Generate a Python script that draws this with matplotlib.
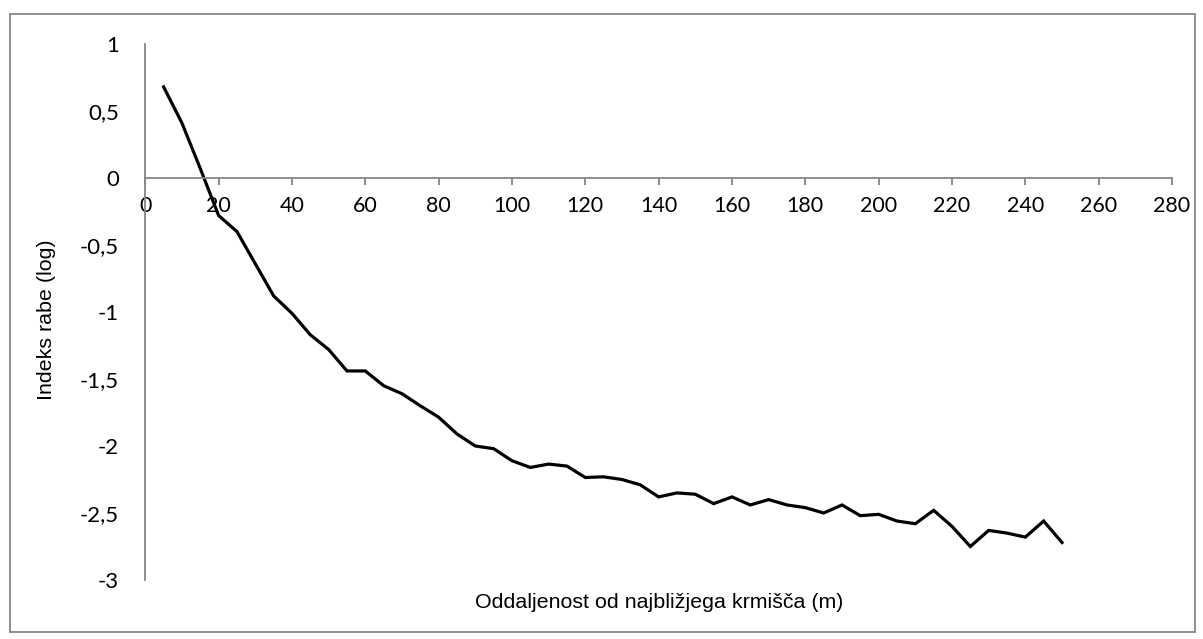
import matplotlib
matplotlib.use("Agg")
import matplotlib.pyplot as plt
from matplotlib.patches import Rectangle

# =========================
# DADOS
# =========================
oddaljenost = [5, 10, 15, 20, 25, 30, 35, 40, 45, 50,
               55, 60, 65, 70, 75, 80, 85, 90, 95, 100,
               105, 110, 115, 120, 125, 130, 135, 140, 145, 150,
               155, 160, 165, 170, 175, 180, 185, 190, 195, 200,
               205, 210, 215, 220, 225, 230, 235, 240, 245, 250]

indeks_rabe = [0.68, 0.41, 0.07, -0.28, -0.40, -0.64, -0.88, -1.01, -1.17, -1.28,
               -1.44, -1.44, -1.55, -1.61, -1.70, -1.785, -1.91, -2.00, -2.02, -2.11,
               -2.16, -2.135, -2.15, -2.235, -2.23, -2.25, -2.29, -2.38, -2.35, -2.36,
               -2.43, -2.38, -2.44, -2.40, -2.44, -2.46, -2.50, -2.44, -2.52, -2.51,
               -2.56, -2.58, -2.48, -2.60, -2.75, -2.63, -2.65, -2.68, -2.56, -2.72]

x_ticks = [0, 20, 40, 60, 80, 100, 120, 140, 160, 180, 200, 220, 240, 260, 280]
y_ticks = [1, 0.5, 0, -0.5, -1, -1.5, -2, -2.5, -3]
y_labels = ["1", "0,5", "0", "-0,5", "-1", "-1,5", "-2", "-2,5", "-3"]

x_title = "Oddaljenost od najbližjega krmišča (m)"
y_title = "Indeks rabe (log)"

# =========================
# FIGURA
# =========================
W, H = 1203, 639
fig = plt.figure(figsize=(W / 100, H / 100), dpi=100)
ax = fig.add_axes([145.3 / W, 1 - 580 / H, (1172 - 145.3) / W, (580 - 44) / H])

ax.plot(oddaljenost, indeks_rabe, color="black", linewidth=2.3, solid_joinstyle="miter")

ax.set_xlim(0, 280)
ax.set_ylim(-3, 1)

cinza = "#868686"
ax.spines["top"].set_visible(False)
ax.spines["right"].set_visible(False)
ax.spines["left"].set_color(cinza)
ax.spines["bottom"].set_color(cinza)
ax.spines["left"].set_linewidth(1.3)
ax.spines["bottom"].set_linewidth(1.3)
ax.spines["bottom"].set_position(("data", 0))

ax.set_xticks(x_ticks)
ax.set_xticklabels([str(t) for t in x_ticks], fontfamily="Lato", fontsize=15.5)
ax.tick_params(axis="x", direction="out", length=5, width=1.3, color=cinza, pad=8)

ax.set_yticks(y_ticks)
ax.set_yticklabels(y_labels, fontfamily="Lato", fontsize=16)
ax.tick_params(axis="y", length=0, pad=19)

# títulos dos eixos
fig.text(659 / W, 1 - 603 / H, x_title, ha="center", va="center",
         fontfamily="Liberation Sans", fontsize=15.4)
fig.text(47 / W, 1 - 320 / H, y_title, ha="center", va="center", rotation=90,
         fontfamily="Liberation Sans", fontsize=15.4)

# moldura
fig.patches.append(Rectangle((10 / W, 1 - 632 / H), (1195 - 10) / W, (632 - 14) / H,
                             transform=fig.transFigure, fill=False,
                             edgecolor=cinza, linewidth=1.3))

fig.savefig("out.png", dpi=100)
